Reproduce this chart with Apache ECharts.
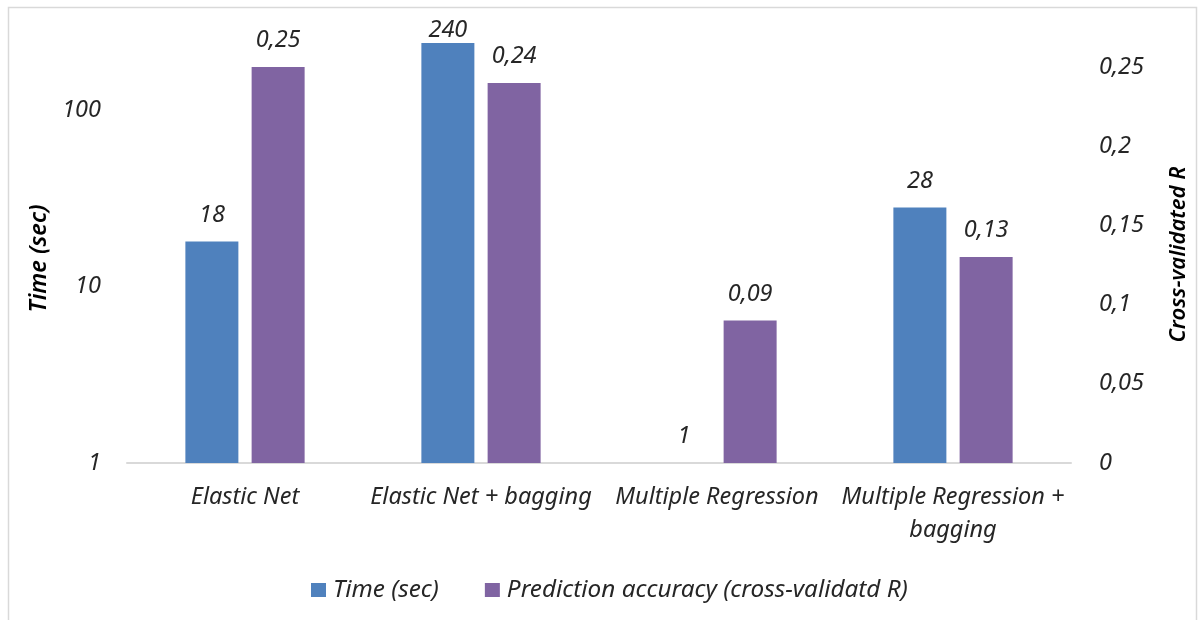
<!DOCTYPE html>
<html><head><meta charset="utf-8">
<script src="https://cdn.jsdelivr.net/npm/echarts@6/dist/echarts.min.js"></script>
<style>html,body{margin:0;padding:0;background:#fff}#c{width:1200px;height:620px}</style>
</head><body><div id="c"></div>
<script>
const categories = ['Elastic Net', 'Elastic Net + bagging', 'Multiple Regression', 'Multiple Regression +\nbagging'];
const timeSec = [18, 240, 1, 28];
const accuracy = [0.25, 0.24, 0.09, 0.13];
const seriesNames = ['Time (sec)', 'Prediction accuracy (cross-validatd R)'];
const leftAxisName = 'Time (sec)';
const rightAxisName = 'Cross-validated R';

const FONT = '"Noto Sans", "Open Sans", sans-serif';
const txt = {fontFamily: FONT, fontStyle: 'italic', fontWeight: 'normal', fontSize: 23.5, color: '#262626'};
const fmtComma = v => String(+v.toFixed(2)).replace('.', ',');

const chart = echarts.init(document.getElementById('c'), null, {renderer: 'canvas'});
chart.setOption({
  animation: false,
  backgroundColor: '#fff',
  graphic: [{type: 'rect', shape: {x: 8.5, y: 7.5, width: 1188, height: 620}, style: {fill: 'none', stroke: '#d9d9d9', lineWidth: 1.5}, silent: true}],
  grid: {left: 127, right: 129, top: 30, bottom: 157, containLabel: false},
  legend: {
    top: 573, left: 306, itemWidth: 15, itemHeight: 14, itemGap: 46,
    icon: 'rect',
    textStyle: Object.assign({}, txt, {fontSize: 24.3, padding: [0, 0, 0, 2]}),
    data: seriesNames
  },
  xAxis: {
    type: 'category', data: categories,
    axisLine: {lineStyle: {color: '#d9d9d9', width: 2}},
    axisTick: {show: false},
    axisLabel: Object.assign({}, txt, {margin: 18, lineHeight: 33, interval: 0})
  },
  yAxis: [{
    type: 'log', logBase: 10, min: 1, max: 284,
    name: leftAxisName, nameLocation: 'middle', nameGap: 72, nameRotate: 90,
    nameTextStyle: Object.assign({}, txt, {fontWeight: 600, color: '#000', padding: [0, 24, 0, 0]}),
    axisLine: {show: false}, axisTick: {show: false}, splitLine: {show: false},
    axisLabel: Object.assign({}, txt, {margin: 26, showMaxLabel: false})
  }, {
    type: 'value', min: 0, max: 0.2734, interval: 0.05,
    name: rightAxisName, nameLocation: 'middle', nameGap: 97, nameRotate: 90,
    nameTextStyle: Object.assign({}, txt, {fontWeight: 600, fontSize: 22, color: '#000', padding: [0, 16, 0, 0]}),
    axisLine: {show: false}, axisTick: {show: false}, splitLine: {show: false},
    axisLabel: Object.assign({}, txt, {margin: 28, showMaxLabel: false, formatter: v => v === 0 ? '0' : fmtComma(v)})
  }],
  series: [{
    name: seriesNames[0], type: 'bar', yAxisIndex: 0,
    data: timeSec.map((v, i) => (i === 1 ? {value: v, label: {distance: 1}} : v)),
    barWidth: 53, barGap: '25%',
    itemStyle: {color: '#4f81bd'},
    label: Object.assign({show: true, position: 'top', distance: 15}, txt, {formatter: p => String(p.value)})
  }, {
    name: seriesNames[1], type: 'bar', yAxisIndex: 1, data: accuracy,
    barWidth: 53, barGap: '25%',
    itemStyle: {color: '#8064a2'},
    label: Object.assign({show: true, position: 'top', distance: 15}, txt, {formatter: p => fmtComma(p.value)})
  }]
});
</script></body></html>
